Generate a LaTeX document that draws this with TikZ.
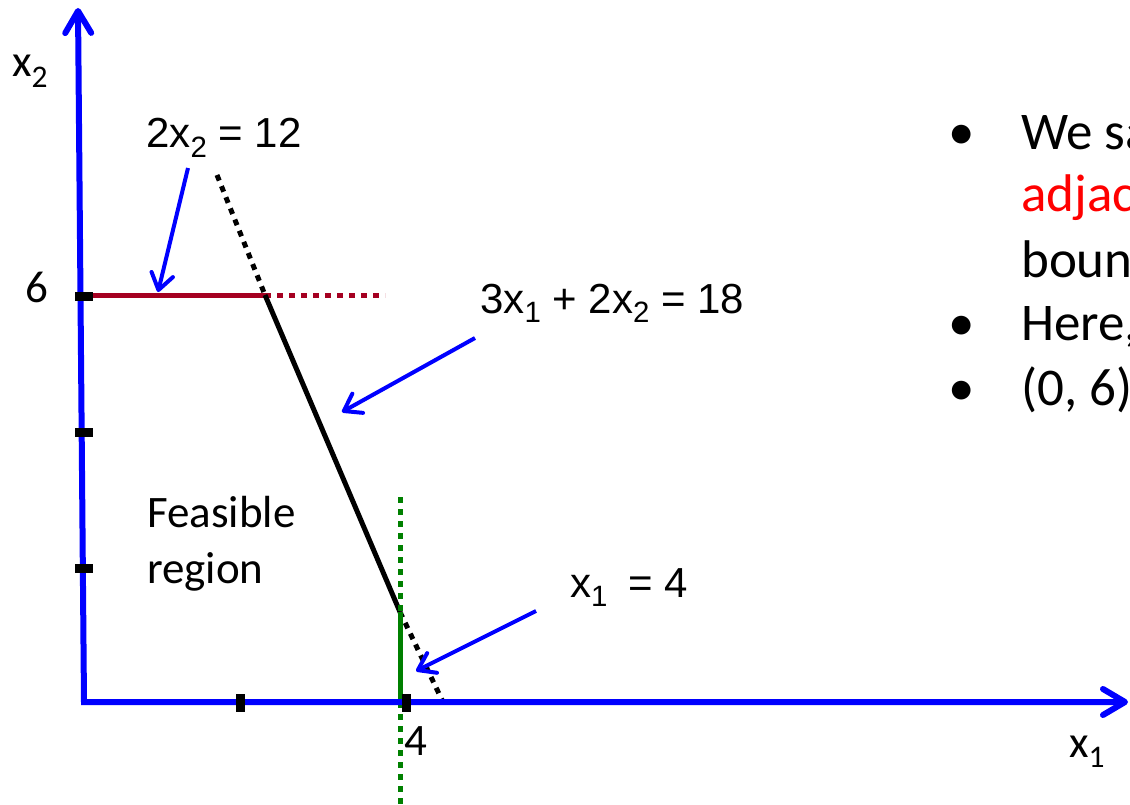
\documentclass[tikz,border=0pt]{standalone}
\usepackage{fontspec}
\usepackage{graphicx}
\setmainfont{Carlito}
\newfontfamily\eqfont{Liberation Sans}
\usetikzlibrary{arrows.meta}
\definecolor{bndred}{HTML}{A50021}
\definecolor{bndgreen}{HTML}{008000}
\definecolor{txtred}{HTML}{FF0000}
\newcommand\subtx[1]{\raisebox{-0.23em}{\scalebox{0.7}{#1}}}

\begin{document}
\begin{tikzpicture}[x=1pt,y=-1pt,
    axis/.style={line width=6pt, blue, line join=miter, arrows={Straight Barb[length=22pt,width=26pt,round]-Straight Barb[length=22pt,width=26pt,round]}},
    note/.style={line width=4pt, blue, arrows={-Straight Barb[length=16pt,width=22pt,round]}},
    bnd/.style={line width=5pt},
    dots/.style={line width=5pt, dash pattern=on 6pt off 6pt},
    tickmark/.style={line width=9pt, black},
    lbl/.style={inner sep=0pt, anchor=base west, font=\fontsize{45}{56}\selectfont},
    eqlbl/.style={inner sep=0pt, anchor=base west, font=\eqfont\fontsize{42}{50}\selectfont},
    txtR/.style={inner sep=0pt, anchor=base west, font=\fontsize{53}{64}\selectfont}
]
\useasboundingbox (0,0) rectangle (1130,805);

% corners and line ends
\coordinate (O) at (84,702);
\coordinate (ytop) at (78,8);
\coordinate (xend) at (1128,702);
\coordinate (y6) at (84,295);
\coordinate (x4) at (400,702);
\coordinate (A) at (265,295);
\coordinate (B) at (400,612);
\coordinate (redend) at (385,295);
\coordinate (blktop) at (217,175);
\coordinate (blkbot) at (442,700);
\coordinate (grntop) at (400,497);
\coordinate (grnbot) at (400,805);

% constraint lines
\draw[bnd, bndred] (y6) -- (A);
\draw[dots, bndred] (A) -- (redend);
\draw[dots] (blktop) -- (A);
\draw[bnd] (A) -- (B);
\draw[dots] (B) -- (blkbot);
\draw[dots, bndgreen] (grntop) -- (B);
\draw[bnd, bndgreen] (B) -- (x4);
\draw[dots, bndgreen] (x4) -- (grnbot);

% axes and ticks
\draw[axis] (ytop) -- (O) -- (xend);
\foreach \ty in {296,432,568}
  \draw[tickmark] (75,\ty) -- (93,\ty);
\foreach \tx in {240,406}
  \draw[tickmark] (\tx,694) -- (\tx,712);

% axis labels
\node[lbl] (x2lbl) at (12,77) {x\subtx{2}};
\node[lbl] (x1lbl) at (1069,757) {x\subtx{1}};
\node[lbl] (six) at (25,302) {6};
\node[lbl] (four) at (404,755) {4};
\node[lbl, align=left] (feas) at (147,583) {Feasible\\region};

% equation labels
\node[eqlbl] (eqred) at (146,148) {2x\subtx{2} = 12};
\node[eqlbl] (eqblk) at (480,313) {3x\subtx{1} + 2x\subtx{2} = 18};
\node[eqlbl] (eqgrn) at (570,597) {x\subtx{1}\hspace{0.5em}= 4};

\coordinate (n1s) at (188,168);
\coordinate (n1e) at (158,292);
\coordinate (n2s) at (475,338);
\coordinate (n2e) at (342,412);
\coordinate (n3s) at (536,611);
\coordinate (n3e) at (416,671);
\draw[note] (n1s) -- (n1e);
\draw[note] (n2s) -- (n2e);
\draw[note] (n3s) -- (n3e);

% bullet text, cut at the right edge
\node[txtR, anchor=base] (bul1) at (962,150) {\textbullet};
\node[txtR] (t1) at (1021,150) {We sa};
\node[txtR, text=txtred] (t2) at (1021,212) {adjac};
\node[txtR] (t3) at (1021,277) {boun};
\node[txtR, anchor=base] (bul2) at (962,340) {\textbullet};
\node[txtR] (t4) at (1021,340) {Here,};
\node[txtR, anchor=base] (bul3) at (962,405) {\textbullet};
\node[txtR] (t5) at (1021,405) {(0, 6)};
\end{tikzpicture}
\end{document}
